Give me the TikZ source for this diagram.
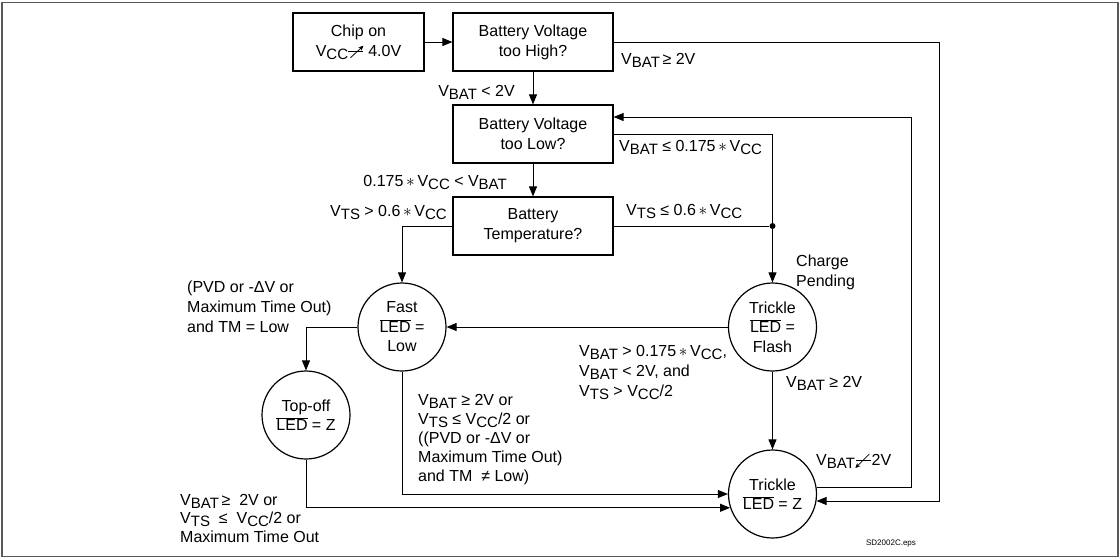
\documentclass[tikz,border=0pt]{standalone}
\usepackage{fontspec}
\setmainfont{Liberation Sans}
\usetikzlibrary{arrows.meta}
\newcommand\sbs[1]{\raisebox{-3pt}{\fontsize{15}{15}\selectfont #1}}
\newcommand\Vs[1]{V\sbs{#1}}
\newcommand\mystar{\,$\ast$\,}
\newcommand\ledbar{$\overline{\mbox{LED}}$}
\newcommand\risesym{\tikz[baseline=0pt,x=1pt,y=1pt,line width=0.8pt]{\draw (0,4.5)--(15,4.5);\draw[-{Stealth[length=5pt,width=4.5pt]}] (2,-1.5)--(15,10.5);}}
\newcommand\fallsym{\tikz[baseline=0pt,x=1pt,y=1pt,line width=0.8pt]{\draw (3,4.5)--(18,4.5);\draw[-{Stealth[length=5pt,width=4.5pt]}] (16,11)--(2,-3);}}
\begin{document}
\begin{tikzpicture}[x=1pt,y=-1pt,
  box/.style={draw,line width=1.2pt,minimum width=160pt,minimum height=58pt,inner sep=0pt,align=center,font=\fontsize{16}{20}\selectfont},
  state/.style={draw,circle,line width=1.2pt,minimum size=88pt,inner sep=0pt,align=center,font=\fontsize{16}{19.5}\selectfont},
  lbl/.style={inner sep=0pt,align=left,font=\fontsize{16}{20}\selectfont},
  conn/.style={line width=0.9pt},
  arr/.style={conn,-{Triangle[length=10pt,width=8pt]}},
  jdot/.style={circle,fill,inner sep=0pt,minimum size=6pt}]
\useasboundingbox (0,0) rectangle (1120,558);
\draw[black!65,line width=1.2pt] (2,2.5) rectangle (1118,556.5);

% boxes
\node[box,minimum width=131pt] (chip) at (358.5,42) {Chip on\\\Vs{CC}\risesym\ 4.0V};
\node[box] (high) at (533,42) {Battery Voltage\\too High?};
\node[box] (low) at (533,134) {Battery Voltage\\too Low?};
\node[box] (temp) at (533,226) {Battery\\Temperature?};

% states
\node[state] (fast) at (402,327) {Fast\\\ledbar\ =\\Low};
\node[state] (tflash) at (772.5,327) {Trickle\\\ledbar\ =\\Flash};
\node[state] (topoff) at (306,415) {Top-off\\\ledbar\ = Z};
\node[state] (tz) at (772.5,494) {Trickle\\\ledbar\ = Z};

\node[jdot] (j) at (772.5,226) {};
\coordinate (r1) at (911,117);
\coordinate (r2) at (939,42);

% connectors
\draw[arr] (chip.east) -- (high.west);
\draw[arr] (high.south) -- (low.north);
\draw[arr] (low.south) -- (temp.north);
\draw[arr] (high.east) -- (r2) -- (r2 |- tz.-9) -- (tz.-9);
\draw[arr] (low.east) -| (tflash.north);
\draw[conn] (temp.east) -- (j);
\draw[arr] (temp.west) -| (fast.north);
\draw[arr] (tflash.west) -- (fast.east);
\draw[arr] (fast.west) -| (topoff.north);
\draw[arr] (fast.south) |- (tz.west);
\draw[arr] (topoff.south) |- (tz.198.5);
\draw[arr] (tflash.south) -- (tz.north);
\draw[arr] (tz.9) -| (r1) -- (low.east |- r1);

% labels
\node[lbl,anchor=east] (l1) at (515,92) {\Vs{BAT} < 2V};
\node[lbl,anchor=east] (l2) at (507,182) {0.175\mystar\Vs{CC} < \Vs{BAT}};
\node[lbl,anchor=west] (l3) at (621,60) {\Vs{BAT}\,≥ 2V};
\node[lbl,anchor=west] (l4) at (619,147) {\Vs{BAT} ≤ 0.175\mystar\Vs{CC}};
\node[lbl,anchor=east] (l5) at (447,212) {\Vs{TS} > 0.6\mystar\Vs{CC}};
\node[lbl,anchor=west] (l6) at (626,211) {\Vs{TS} ≤ 0.6\mystar\Vs{CC}};
\node[lbl,anchor=west] (l7) at (796,272) {Charge\\Pending};
\node[lbl,anchor=west] (l8) at (187,307) {(PVD or -ΔV or\\Maximum Time Out)\\and TM = Low};
\node[lbl,anchor=west] (l9) at (579,372) {\Vs{BAT} > 0.175\mystar\Vs{CC},\\\Vs{BAT} < 2V, and\\\Vs{TS} > \Vs{CC}/2};
\node[lbl,anchor=west] (l10) at (786,383) {\Vs{BAT} ≥ 2V};
\node[lbl,anchor=west,font=\fontsize{16}{19}\selectfont] (l11) at (418,440) {\Vs{BAT} ≥ 2V or\\\Vs{TS} ≤ \Vs{CC}/2 or\\((PVD or -ΔV or\\Maximum Time Out)\\and TM ~≠ Low)};
\node[lbl,anchor=west,font=\fontsize{16}{18.5}\selectfont] (l12) at (180,518) {\Vs{BAT}\,≥ ~2V or\\\Vs{TS} ~≤ ~\Vs{CC}/2 or\\Maximum Time Out};
\node[lbl,anchor=west] (l13) at (816,461) {\Vs{BAT}\fallsym 2V};
\node[inner sep=0pt,font=\fontsize{8}{8}\selectfont] (l14) at (891,544) {SD2002C.eps};
\end{tikzpicture}
\end{document}
